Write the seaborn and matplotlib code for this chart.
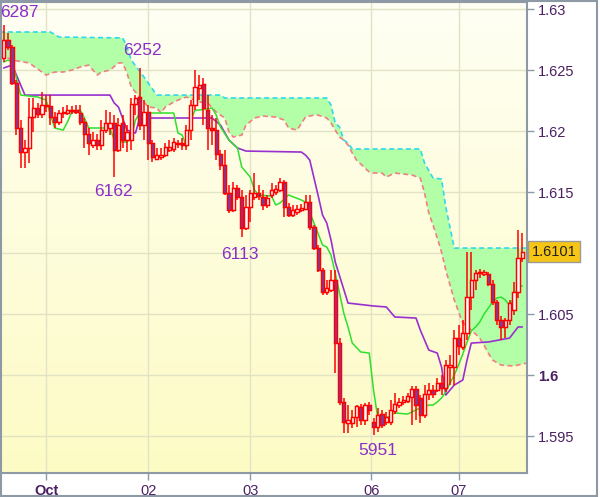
import numpy as np
import matplotlib
matplotlib.use("Agg")
import matplotlib.pyplot as plt
import seaborn as sns
from matplotlib.colors import LinearSegmentedColormap
from matplotlib.patches import Rectangle

# hourly candles
open_ = [1.62599, 1.62746, 1.62689, 1.62394, 1.62025, 1.61828, 1.61861, 1.62115, 1.62189, 1.62140,
         1.62213, 1.62205, 1.62115, 1.62074, 1.62148, 1.62148, 1.62164, 1.62172, 1.62148, 1.62074,
         1.61976, 1.61885, 1.61926, 1.61885, 1.62008, 1.62025, 1.62066, 1.61844, 1.62066, 1.61926,
         1.61926, 1.62222, 1.62279, 1.62049, 1.62156, 1.61902, 1.61771, 1.61787, 1.61803, 1.61844,
         1.61853, 1.61902, 1.61902, 1.61885, 1.62008, 1.62213, 1.62353, 1.62385, 1.62172, 1.62025,
         1.62008, 1.61812, 1.61721, 1.61492, 1.61353, 1.61533, 1.61459, 1.61205, 1.61377, 1.61459,
         1.61492, 1.61459, 1.61394, 1.61476, 1.61500, 1.61517, 1.61582, 1.61377, 1.61312, 1.61336,
         1.61353, 1.61361, 1.61418, 1.61213, 1.61041, 1.60861, 1.60680, 1.60697, 1.60779, 1.60262,
         1.59779, 1.59607, 1.59607, 1.59656, 1.59738, 1.59631, 1.59754, 1.59615, 1.59574, 1.59680,
         1.59615, 1.59615, 1.59705, 1.59754, 1.59779, 1.59787, 1.59820, 1.59885, 1.59812, 1.59672,
         1.59844, 1.59877, 1.59877, 1.59935, 1.59894, 1.60066, 1.60066, 1.60303, 1.60230, 1.60344,
         1.60639, 1.60779, 1.60836, 1.60828, 1.60828, 1.60746, 1.60599, 1.60451, 1.60394, 1.60451,
         1.60533, 1.60680, 1.60959]
high = [1.62870, 1.62803, 1.62705, 1.62418, 1.62090, 1.61926, 1.62271, 1.62271, 1.62230, 1.62320,
        1.62295, 1.62295, 1.62156, 1.62172, 1.62197, 1.62213, 1.62205, 1.62213, 1.62213, 1.62107,
        1.62025, 1.61992, 1.61976, 1.62090, 1.62172, 1.62156, 1.62131, 1.62107, 1.62131, 1.62049,
        1.62271, 1.62295, 1.62520, 1.62254, 1.62213, 1.61926, 1.61861, 1.61861, 1.61902, 1.61926,
        1.61943, 1.61926, 1.61943, 1.62049, 1.62254, 1.62500, 1.62459, 1.62435, 1.62295, 1.62131,
        1.62107, 1.61844, 1.61844, 1.61558, 1.61582, 1.61558, 1.61517, 1.61476, 1.61517, 1.61656,
        1.61558, 1.61517, 1.61476, 1.61574, 1.61558, 1.61615, 1.61599, 1.61410, 1.61394, 1.61394,
        1.61402, 1.61476, 1.61476, 1.61230, 1.61066, 1.60877, 1.60779, 1.60861, 1.60861, 1.60303,
        1.59812, 1.59754, 1.59713, 1.59754, 1.59762, 1.59771, 1.59779, 1.59648, 1.59730, 1.59713,
        1.59697, 1.59795, 1.59853, 1.59812, 1.59828, 1.59853, 1.59910, 1.59910, 1.59836, 1.59918,
        1.59935, 1.59918, 1.59976, 1.60000, 1.60123, 1.60164, 1.60369, 1.60410, 1.60451, 1.61008,
        1.61008, 1.60861, 1.60869, 1.60861, 1.60844, 1.60779, 1.60615, 1.60484, 1.60467, 1.60615,
        1.60762, 1.61189, 1.61164]
low = [1.62566, 1.62664, 1.62377, 1.61967, 1.61697, 1.61697, 1.61738, 1.61992, 1.62107, 1.62107,
       1.62156, 1.62049, 1.62025, 1.62049, 1.62107, 1.62131, 1.62140, 1.62140, 1.62049, 1.61861,
       1.61803, 1.61861, 1.61844, 1.61844, 1.61984, 1.61967, 1.61620, 1.61828, 1.61861, 1.61828,
       1.61844, 1.62131, 1.62008, 1.61926, 1.61762, 1.61746, 1.61762, 1.61762, 1.61787, 1.61828,
       1.61828, 1.61861, 1.61844, 1.61844, 1.61926, 1.62172, 1.62254, 1.62049, 1.61844, 1.61885,
       1.61762, 1.61681, 1.61476, 1.61328, 1.61336, 1.61435, 1.61130, 1.61189, 1.61254, 1.61435,
       1.61435, 1.61353, 1.61369, 1.61451, 1.61476, 1.61500, 1.61295, 1.61295, 1.61295, 1.61312,
       1.61336, 1.61353, 1.61189, 1.61025, 1.60844, 1.60656, 1.60656, 1.60680, 1.60017, 1.59754,
       1.59525, 1.59525, 1.59566, 1.59574, 1.59590, 1.59590, 1.59672, 1.59510, 1.59533, 1.59566,
       1.59590, 1.59590, 1.59680, 1.59730, 1.59754, 1.59771, 1.59590, 1.59631, 1.59607, 1.59648,
       1.59795, 1.59812, 1.59861, 1.59836, 1.59861, 1.59918, 1.59918, 1.60164, 1.60205, 1.60287,
       1.60533, 1.60697, 1.60795, 1.60812, 1.60730, 1.60574, 1.60410, 1.60287, 1.60303, 1.60410,
       1.60492, 1.60631, 1.60926]
close = [1.62746, 1.62689, 1.62394, 1.62025, 1.61828, 1.61861, 1.62115, 1.62189, 1.62140, 1.62213,
         1.62205, 1.62115, 1.62074, 1.62148, 1.62156, 1.62172, 1.62172, 1.62156, 1.62074, 1.61976,
         1.61902, 1.61926, 1.61885, 1.62008, 1.62066, 1.62066, 1.61844, 1.62049, 1.61926, 1.61992,
         1.62222, 1.62271, 1.62049, 1.62156, 1.61902, 1.61787, 1.61803, 1.61803, 1.61869, 1.61869,
         1.61910, 1.61894, 1.61885, 1.62008, 1.62213, 1.62361, 1.62377, 1.62189, 1.62025, 1.62008,
         1.61812, 1.61721, 1.61492, 1.61353, 1.61533, 1.61459, 1.61205, 1.61377, 1.61492, 1.61492,
         1.61467, 1.61394, 1.61451, 1.61517, 1.61525, 1.61582, 1.61377, 1.61312, 1.61353, 1.61361,
         1.61369, 1.61418, 1.61213, 1.61041, 1.60861, 1.60680, 1.60713, 1.60779, 1.60262, 1.59779,
         1.59615, 1.59631, 1.59656, 1.59746, 1.59631, 1.59754, 1.59713, 1.59574, 1.59672, 1.59590,
         1.59656, 1.59713, 1.59762, 1.59779, 1.59795, 1.59828, 1.59885, 1.59754, 1.59672, 1.59844,
         1.59877, 1.59844, 1.59935, 1.59894, 1.60082, 1.60082, 1.60303, 1.60238, 1.60344, 1.60639,
         1.60779, 1.60836, 1.60844, 1.60844, 1.60746, 1.60599, 1.60451, 1.60394, 1.60451, 1.60590,
         1.60680, 1.60959, 1.61010]

# fast line (green)
tenkan_x = [0, 1, 2, 3, 4, 8, 10, 11, 12, 14, 15, 16, 18, 19, 20, 25, 26, 27, 29, 30,
            31, 32, 40, 41, 42, 43, 44, 45, 46, 49, 50, 51, 53, 55, 56, 58, 59, 60, 63, 64,
            65, 67, 70, 71, 73, 75, 76, 77, 78, 80, 81, 82, 84, 86, 87, 88, 90, 92, 95, 96,
            98, 100, 101, 102, 103, 104, 105, 106, 107, 108, 109, 110, 111, 112, 113, 114, 115, 116, 117, 118,
            119, 120, 121, 122]
tenkan_y = [1.62566, 1.62582, 1.62566, 1.62435, 1.62295, 1.62279, 1.62254, 1.62131, 1.62025, 1.62008,
            1.62074, 1.62156, 1.62172, 1.62107, 1.62025, 1.62025, 1.61926, 1.61910, 1.61910, 1.61943,
            1.62090, 1.62148, 1.62148, 1.61984, 1.61967, 1.61869, 1.62090, 1.62172, 1.62172, 1.62189,
            1.62131, 1.62033, 1.61926, 1.61861, 1.61705, 1.61623, 1.61517, 1.61476, 1.61467, 1.61394,
            1.61410, 1.61476, 1.61435, 1.61418, 1.61246, 1.61066, 1.61049, 1.60984, 1.60836, 1.60508,
            1.60394, 1.60262, 1.60189, 1.60180, 1.59877, 1.59648, 1.59648, 1.59689, 1.59680, 1.59697,
            1.59730, 1.59754, 1.59754, 1.59779, 1.59812, 1.59861, 1.59935, 1.60000, 1.60082, 1.60172,
            1.60271, 1.60361, 1.60394, 1.60435, 1.60500, 1.60549, 1.60599, 1.60631, 1.60639, 1.60615,
            1.60574, 1.60631, 1.60730, 1.60730]

# slow line (purple)
kijun_x = [0, 2, 5, 25, 26, 27, 29, 31, 32, 49, 51, 53, 55, 57, 70, 71, 72, 74, 75, 76,
           77, 78, 81, 87, 90, 92, 97, 98, 100, 102, 103, 104, 106, 108, 109, 110, 114, 119, 121, 122]
kijun_y = [1.62517, 1.62541, 1.62295, 1.62295, 1.62230, 1.62197, 1.62008, 1.61984, 1.62107, 1.62107,
           1.62049, 1.61926, 1.61861, 1.61836, 1.61828, 1.61803, 1.61762, 1.61467, 1.61312, 1.61246,
           1.61107, 1.60926, 1.60590, 1.60566, 1.60558, 1.60476, 1.60467, 1.60369, 1.60205, 1.60180,
           1.60066, 1.59836, 1.59918, 1.59959, 1.60123, 1.60262, 1.60271, 1.60303, 1.60394, 1.60394]

# cloud edges
cloud_up_x = [-1, 11, 13, 28, 29, 30, 33, 36, 51, 52, 76, 77, 78, 79, 80, 81, 82, 98, 99, 101,
              103, 104, 106, 123]
cloud_up_y = [1.62812, 1.62812, 1.62771, 1.62763, 1.62689, 1.62582, 1.62443, 1.62295, 1.62295, 1.62271,
              1.62271, 1.62213, 1.62066, 1.62033, 1.61926, 1.61902, 1.61853, 1.61853, 1.61738, 1.61615,
              1.61607, 1.61377, 1.61041, 1.61041]
cloud_lo_x = [-1, 1, 2, 6, 9, 10, 12, 14, 16, 18, 20, 21, 22, 23, 25, 27, 28, 29, 30, 32,
              34, 36, 37, 38, 40, 41, 43, 45, 46, 48, 50, 52, 53, 54, 56, 57, 59, 61, 64, 66,
              67, 69, 71, 73, 74, 76, 77, 78, 79, 80, 81, 82, 83, 86, 87, 89, 90, 92, 96, 98,
              99, 100, 101, 102, 103, 104, 106, 108, 110, 112, 113, 114, 115, 117, 120, 123]
cloud_lo_y = [1.62623, 1.62599, 1.62582, 1.62558, 1.62484, 1.62459, 1.62484, 1.62484, 1.62500, 1.62525,
              1.62541, 1.62500, 1.62459, 1.62484, 1.62500, 1.62558, 1.62558, 1.62476, 1.62361, 1.62279,
              1.62197, 1.62189, 1.62148, 1.62197, 1.62238, 1.62254, 1.62279, 1.62254, 1.62238, 1.62230,
              1.62156, 1.62107, 1.61992, 1.61951, 1.61967, 1.62049, 1.62107, 1.62123, 1.62115, 1.62090,
              1.62025, 1.62008, 1.62115, 1.62131, 1.62131, 1.62107, 1.62066, 1.62008, 1.61951, 1.61926,
              1.61885, 1.61820, 1.61762, 1.61664, 1.61656, 1.61656, 1.61623, 1.61656, 1.61640, 1.61615,
              1.61492, 1.61328, 1.61230, 1.61123, 1.61008, 1.60861, 1.60615, 1.60426, 1.60369, 1.60303,
              1.60246, 1.60180, 1.60123, 1.60082, 1.60074, 1.60098]

day_ticks = [10, 34, 58, 86.5, 107]
day_labels = ["Oct", "02", "03", "06", "07"]
price_ticks = [1.595, 1.6, 1.605, 1.61, 1.615, 1.62, 1.625, 1.63]
# 1.61 sits under the last-price tag, so it shows no text
price_labels = ["1.595", "1.6", "1.605", "", "1.615", "1.62", "1.625", "1.63"]

# swing points that get a label: (candle, which end, text offset in px)
swing_marks = [(0, "high", (16, 12)), (32, "high", (3, 17)), (26, "low", (-1, -14)),
               (56, "low", (-2, -17)), (87, "low", (4, -16))]

sns.set_theme(style="white")
plt.rcParams["font.family"] = ["Liberation Sans", "DejaVu Sans"]

frame_col = "#8d9aa5"
label_col = "#4b2063"
mark_col = "#8c2fc8"

fig = plt.figure(figsize=(6, 4.97), dpi=100, facecolor="white")
ax = fig.add_axes([0.0, 0.0483, 0.8783, 0.9477])

# pale yellow background fading to white at the top
bg = LinearSegmentedColormap.from_list("bg", ["#fdfbc4", "#fffff4"])
ax.imshow(np.linspace(0, 1, 256).reshape(-1, 1), cmap=bg, origin="lower", aspect="auto",
          extent=[0, 1, 0, 1], transform=ax.transAxes, zorder=0)

ax.set_xticks(day_ticks)
ax.set_xticklabels(day_labels)
ax.set_yticks(price_ticks)
ax.set_yticklabels(price_labels)
ax.grid(True, color="#e2e2c4", lw=1)
ax.set_axisbelow(True)

# cloud
ax.fill(np.concatenate([cloud_up_x, cloud_lo_x[::-1]]),
        np.concatenate([cloud_up_y, cloud_lo_y[::-1]]),
        color="#b2ffa8", lw=0, zorder=1)
ax.plot(cloud_up_x, cloud_up_y, color="#30d8ec", lw=1.2, ls=(0, (3, 2)), zorder=1.5)
ax.plot(cloud_lo_x, cloud_lo_y, color="#f08080", lw=1.2, ls=(0, (3, 2)), zorder=1.5)

sns.lineplot(x=kijun_x, y=kijun_y, ax=ax, color="#9a2fd0", lw=1.2, zorder=2)
sns.lineplot(x=tenkan_x, y=tenkan_y, ax=ax, color="#2ee02e", lw=1.1, zorder=2)

# candles
o = np.array(open_)
c = np.array(close)
idx = np.arange(len(c))
up = c >= o
ax.vlines(idx, low, high, color="#ff0000", lw=1.1, zorder=3)
ax.bar(idx, np.abs(c - o), bottom=np.minimum(o, c), width=0.8,
       color=np.where(up, "white", "#7c3ca2"), edgecolor="#ff0000", linewidth=1.05, zorder=4)

for i, end, off in swing_marks:
    v = high[i] if end == "high" else low[i]
    ax.annotate(f"{round(v * 10000) % 10000:04d}", xy=(i, v), xytext=off, textcoords="offset pixels",
                ha="center", va="center", color=mark_col, fontsize=12.5, zorder=6)

# last price tag on the scale
ax.annotate(f"{close[-1]:.4f}", xy=(1, close[-1]), xycoords=("axes fraction", "data"),
            xytext=(5, 0), textcoords="offset pixels", ha="left", va="center",
            fontsize=10.5, color="#222222", annotation_clip=False, zorder=10,
            bbox=dict(boxstyle="square,pad=0.25", fc="#f7c614", ec="#9a9a9a", lw=1))

ax.set_xlim(-0.87, 123.1)
ax.set_ylim(1.59197, 1.63058)

ax.yaxis.tick_right()
ax.tick_params(axis="both", direction="out", length=5, width=1, color=frame_col,
               labelcolor=label_col, labelsize=10.5, pad=3)
ax.tick_params(axis="y", right=True, left=False)
ax.tick_params(axis="x", bottom=True)
for t in ax.get_yticklabels():
    if t.get_text() == "1.6":
        t.set_fontweight("bold")
for t in ax.get_xticklabels():
    if t.get_text() == "Oct":
        t.set_fontweight("bold")

for s in ax.spines.values():
    s.set_color(frame_col)
    s.set_linewidth(1.5)
    s.set_visible(True)

fig.patches.append(Rectangle((0.001, 0.002), 0.994, 0.995, transform=fig.transFigure,
                             fill=False, ec=frame_col, lw=1.5))

fig.savefig("out.png", dpi=100)
